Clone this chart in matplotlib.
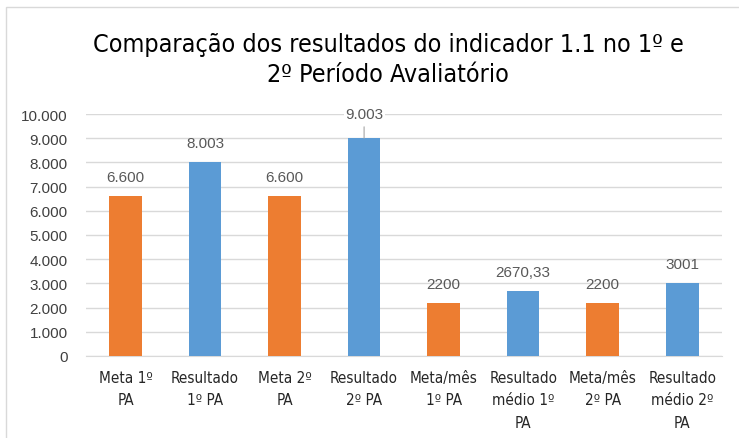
import matplotlib.pyplot as plt
from matplotlib.patches import Rectangle

categorias = ["Meta 1º\nPA", "Resultado\n1º PA", "Meta 2º\nPA", "Resultado\n2º PA",
              "Meta/mês\n1º PA", "Resultado\nmédio 1º\nPA", "Meta/mês\n2º PA", "Resultado\nmédio 2º\nPA"]
valores = [6600, 8003, 6600, 9003, 2200, 2670.33, 2200, 3001]
rotulos = ["6.600", "8.003", "6.600", "9.003", "2200", "2670,33", "2200", "3001"]
cores = ["#ED7D31", "#5B9BD5"] * 4
yticks = list(range(0, 10001, 1000))
ytick_labels = ["0", "1.000", "2.000", "3.000", "4.000", "5.000", "6.000",
                "7.000", "8.000", "9.000", "10.000"]

narrow = ["DejaVu Sans"]
arial = ["Liberation Sans", "DejaVu Sans"]

fig = plt.figure(figsize=(7.39, 4.39), dpi=100)
ax = fig.add_axes([0.116, 0.187, 0.861, 0.551])

x = range(len(categorias))
ax.bar(x, valores, width=0.41, color=cores, zorder=3)

for i, (v, r) in enumerate(zip(valores, rotulos)):
    if v > 8500:
        ax.annotate(r, (i, v), xytext=(0, 24), textcoords="offset pixels",
                    ha="center", va="center", fontsize=11, color="#595959",
                    family=arial, zorder=5,
                    bbox=dict(boxstyle="square,pad=0.1", fc="white", ec="none"),
                    arrowprops=dict(arrowstyle="-", color="#A6A6A6", lw=0.8,
                                    shrinkA=3, shrinkB=0))
    else:
        ax.annotate(r, (i, v), xytext=(0, 19), textcoords="offset pixels",
                    ha="center", va="center", fontsize=11, color="#595959",
                    family=arial, zorder=5)

ax.set_xlim(-0.5, len(categorias) - 0.5)
ax.set_ylim(0, 10000)
ax.set_yticks(yticks)
ax.set_yticklabels(ytick_labels, family=arial, fontsize=11, color="#404040")
ax.set_xticks(list(x))
ax.set_xticklabels(categorias, family=narrow, fontstretch="condensed",
                   fontsize=11, color="#262626", linespacing=1.62)
ax.tick_params(axis="both", length=0)
ax.tick_params(axis="y", pad=13)
ax.tick_params(axis="x", pad=10)
ax.grid(axis="y", color="#D9D9D9", lw=1, zorder=0)
for s in ["top", "right", "left"]:
    ax.spines[s].set_visible(False)
ax.spines["bottom"].set_color("#D9D9D9")

fig.text(0.525, 0.863, "Comparação dos resultados do indicador 1.1 no 1º e\n2º Período Avaliatório",
         ha="center", va="center", fontsize=18, family=narrow, fontstretch="condensed",
         color="#000000", linespacing=1.3)

fig.patches.append(Rectangle((6 / 739, -0.1), 1.2, 1 - 8 / 439 + 0.1,
                             transform=fig.transFigure, fill=False,
                             ec="#D9D9D9", lw=1))

fig.savefig("out.png", dpi=100)
plt.close()
